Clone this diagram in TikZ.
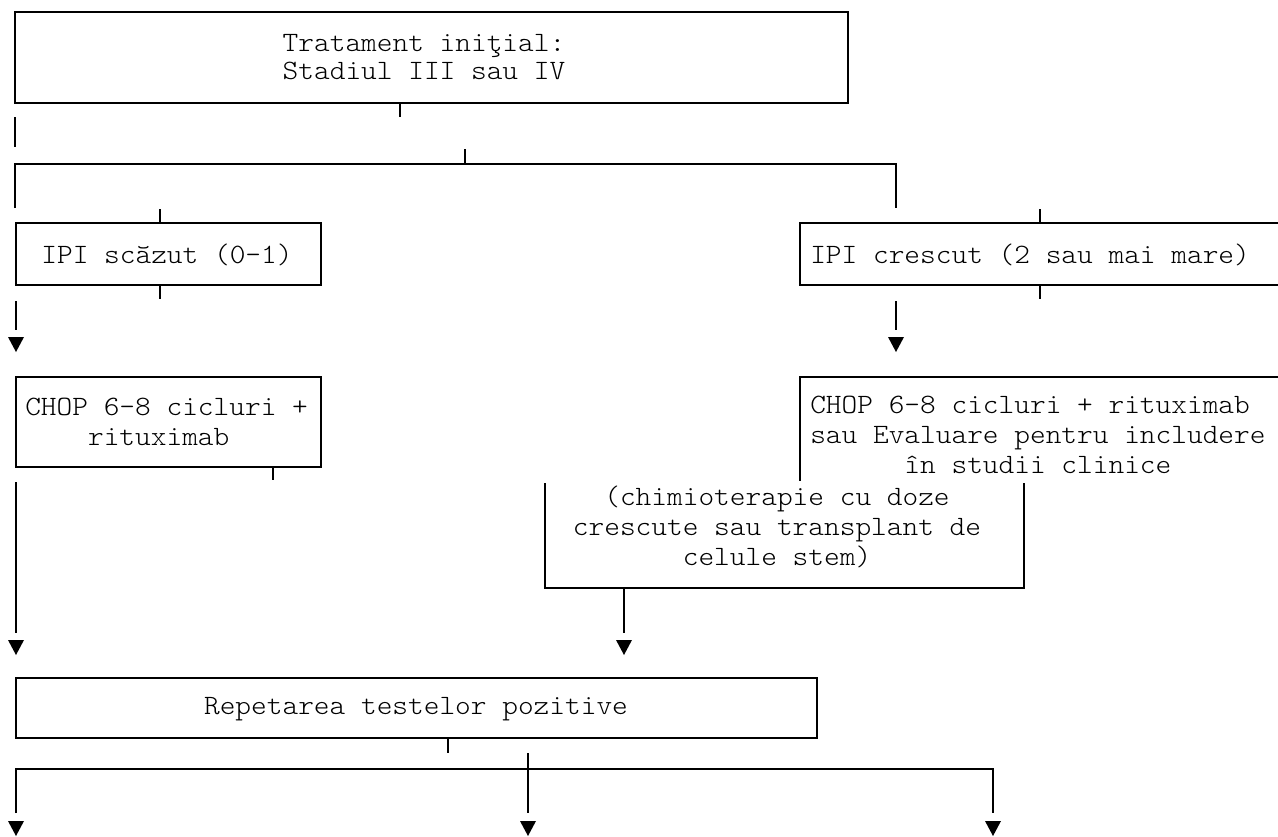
\documentclass[tikz,border=0pt]{standalone}
\usepackage{fontspec}
\setmonofont{Latin Modern Mono Light}[FakeStretch=1.068]
\newcommand\downtip[1]{\fill (#1) ++(0,7.5) -- ++(-8,-15) -- ++(16,0) -- cycle;}
\begin{document}
\begin{tikzpicture}[x=0.75pt,y=-0.75pt,
  rule/.style={line width=1.7pt, line cap=butt},
  box/.style={rule, draw, inner sep=0pt},
  txt/.style={font=\ttfamily\fontsize{21}{22.5}\selectfont, inner sep=0pt},
  toptxt/.style={font=\ttfamily\fontsize{21}{21}\selectfont, inner sep=0pt}]
\useasboundingbox (0,0) rectangle (1278,836);

% boxes
\node[box, minimum width=624.75pt, minimum height=68.25pt] (init) at (431.5,57.5) {};
\node[toptxt, align=center] (initT) at (424,57) {Tratament iniţial:\\Stadiul III sau IV};

\node[box, minimum width=228.75pt, minimum height=46.5pt] (low) at (168.5,254) {};
\node[txt] (lowT) at (167,255) {IPI scăzut (0-1)};

\coordinate (highNW) at (800,223);
\coordinate (highSW) at (800,285);
\draw[rule] (1280,223) -- (highNW) -- (highSW) -- (1280,285);
\node[txt, anchor=west] (highT) at (810,255) {IPI crescut (2 sau mai mare)};

\node[box, minimum width=228.75pt, minimum height=67.5pt] (chopL) at (168.5,422) {};
\node[txt, align=left, anchor=west] (chopLT) at (25,422) {CHOP 6-8 cicluri +\\\phantom{xxxx}rituximab};

\coordinate (chopHNW) at (800,377);
\coordinate (chopHSW) at (800,481);
\draw[rule] (1280,377) -- (chopHNW) -- (chopHSW);
\node[txt, align=left, anchor=west] (chopHT) at (810,435)
  {CHOP 6-8 cicluri + rituximab\\sau Evaluare pentru includere\\\phantom{xxxxxx}în studii clinice};

\coordinate (chemNW) at (545,483);
\coordinate (chemSW) at (545,588);
\coordinate (chemSE) at (1024,588);
\coordinate (chemNE) at (1024,483);
\draw[rule] (chemNW) -- (chemSW) -- (chemSE) -- (chemNE);
\node[txt, align=center] (chemT) at (777,527)
  {(chimioterapie cu doze\\crescute sau transplant de\\celule stem)};

\node[box, minimum width=600.75pt, minimum height=45pt] (rep) at (416.5,708) {};
\node[txt] (repT) at (416,709) {Repetarea testelor pozitive};

% connectors
\coordinate (t1a) at (400,103); \coordinate (t1b) at (400,117);
\draw[rule] (t1a) -- (t1b);
\coordinate (l1a) at (15,117); \coordinate (l1b) at (15,147);
\draw[rule] (l1a) -- (l1b);
\coordinate (t2a) at (465,149); \coordinate (t2b) at (465,164);
\draw[rule] (t2a) -- (t2b);
\coordinate (brL) at (15,208); \coordinate (brR) at (896,208);
\draw[rule] (brL) -- (15,164) -- (896,164) -- (brR);

\coordinate (lowIn) at (160,209);
\draw[rule] (lowIn) -- (low.north -| lowIn);
\coordinate (highIn) at (1040,209);
\draw[rule] (highIn) -- (highNW -| highIn);
\coordinate (lowOut) at (160,299);
\draw[rule] (low.south -| lowOut) -- (lowOut);
\coordinate (highOut) at (1040,299);
\draw[rule] (highSW -| highOut) -- (highOut);

\coordinate (a1s) at (16,301); \coordinate (a1e) at (16,330);
\draw[rule] (a1s) -- (a1e);
\coordinate (a1) at (16,344.5); \downtip{a1}
\coordinate (a2s) at (896,301); \coordinate (a2e) at (896,330);
\draw[rule] (a2s) -- (a2e);
\coordinate (a2) at (896,344.5); \downtip{a2}

\coordinate (chopLOut) at (273,480);
\draw[rule] (chopL.south -| chopLOut) -- (chopLOut);

\coordinate (a3s) at (16,482); \coordinate (a3e) at (16,633);
\draw[rule] (a3s) -- (a3e);
\coordinate (a3) at (16,647.5); \downtip{a3}
\coordinate (a4e) at (624,633);
\draw[rule] (chemSW -| a4e) -- (a4e);
\coordinate (a4) at (624,647.5); \downtip{a4}

\coordinate (repOut) at (448,753);
\draw[rule] (rep.south -| repOut) -- (repOut);
\coordinate (splitL) at (16,813);
\coordinate (splitR) at (993,813);
\coordinate (splitM) at (528,813);
\draw[rule] (splitL) -- (16,769) -- (993,769) -- (splitR);
\draw[rule] (528,753) -- (splitM);
\coordinate (b1) at (16,828.5); \downtip{b1}
\coordinate (b2) at (528,828.5); \downtip{b2}
\coordinate (b3) at (993,828.5); \downtip{b3}
\end{tikzpicture}
\end{document}
